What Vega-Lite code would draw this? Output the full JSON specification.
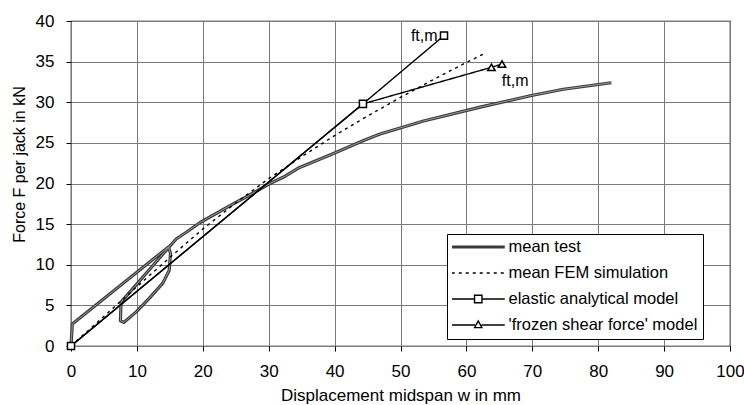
{
  "$schema": "https://vega.github.io/schema/vega-lite/v6.json",
  "width": 659,
  "height": 325,
  "autosize": {"type": "none"},
  "padding": {"left": 71, "top": 21, "right": 14, "bottom": 59},
  "background": "white",
  "config": {
    "view": {"stroke": "black", "strokeWidth": 1.2},
    "font": "Liberation Sans",
    "axis": {
      "labelFont": "Liberation Sans",
      "labelFontSize": 17,
      "labelColor": "black",
      "titleFont": "Liberation Sans",
      "titleFontSize": 17,
      "titleFontWeight": "normal",
      "titleColor": "black",
      "tickColor": "black",
      "tickSize": 5,
      "gridColor": "#7a7a7a",
      "gridWidth": 1,
      "gridOpacity": 1,
      "domain": false,
      "labelPadding": 12
    }
  },
  "datasets": {
    "curves": [
      {"series": "mean test", "i": 0, "x": 0, "y": 0},
      {"series": "mean test", "i": 1, "x": 0.2, "y": 2.7},
      {"series": "mean test", "i": 2, "x": 14.8, "y": 12.2},
      {"series": "mean test", "i": 3, "x": 15.1, "y": 11.4},
      {"series": "mean test", "i": 4, "x": 14.9, "y": 9.3},
      {"series": "mean test", "i": 5, "x": 13.9, "y": 7.7},
      {"series": "mean test", "i": 6, "x": 11.9, "y": 5.9},
      {"series": "mean test", "i": 7, "x": 9.9, "y": 4.2},
      {"series": "mean test", "i": 8, "x": 8.0, "y": 2.9},
      {"series": "mean test", "i": 9, "x": 7.5, "y": 3.1},
      {"series": "mean test", "i": 10, "x": 7.6, "y": 5.4},
      {"series": "mean test", "i": 11, "x": 14.9, "y": 12.2},
      {"series": "mean test", "i": 12, "x": 16.0, "y": 13.2},
      {"series": "mean test", "i": 13, "x": 17.5, "y": 14.0},
      {"series": "mean test", "i": 14, "x": 19.6, "y": 15.2},
      {"series": "mean test", "i": 15, "x": 24.6, "y": 17.5},
      {"series": "mean test", "i": 16, "x": 26.7, "y": 18.4},
      {"series": "mean test", "i": 17, "x": 30.2, "y": 20.0},
      {"series": "mean test", "i": 18, "x": 32.5, "y": 20.9},
      {"series": "mean test", "i": 19, "x": 34.5, "y": 21.9},
      {"series": "mean test", "i": 20, "x": 39.3, "y": 23.5},
      {"series": "mean test", "i": 21, "x": 44.4, "y": 25.3},
      {"series": "mean test", "i": 22, "x": 46.9, "y": 26.1},
      {"series": "mean test", "i": 23, "x": 53.5, "y": 27.7},
      {"series": "mean test", "i": 24, "x": 62.1, "y": 29.4},
      {"series": "mean test", "i": 25, "x": 69.7, "y": 30.8},
      {"series": "mean test", "i": 26, "x": 74.7, "y": 31.6},
      {"series": "mean test", "i": 27, "x": 82.0, "y": 32.4},
      {"series": "mean FEM simulation", "i": 0, "x": 0, "y": 0},
      {"series": "mean FEM simulation", "i": 1, "x": 5, "y": 3.65},
      {"series": "mean FEM simulation", "i": 2, "x": 10, "y": 7.3},
      {"series": "mean FEM simulation", "i": 3, "x": 15, "y": 10.9},
      {"series": "mean FEM simulation", "i": 4, "x": 20, "y": 14.4},
      {"series": "mean FEM simulation", "i": 5, "x": 25, "y": 17.6},
      {"series": "mean FEM simulation", "i": 6, "x": 30, "y": 20.6},
      {"series": "mean FEM simulation", "i": 7, "x": 35, "y": 23.3},
      {"series": "mean FEM simulation", "i": 8, "x": 40, "y": 25.9},
      {"series": "mean FEM simulation", "i": 9, "x": 45, "y": 28.3},
      {"series": "mean FEM simulation", "i": 10, "x": 50, "y": 30.6},
      {"series": "mean FEM simulation", "i": 11, "x": 55, "y": 32.8},
      {"series": "mean FEM simulation", "i": 12, "x": 60, "y": 34.9},
      {"series": "mean FEM simulation", "i": 13, "x": 63, "y": 36.1},
      {"series": "elastic analytical model", "i": 0, "x": 0, "y": 0},
      {"series": "elastic analytical model", "i": 1, "x": 44.3, "y": 29.8},
      {"series": "elastic analytical model", "i": 2, "x": 56.6, "y": 38.2},
      {"series": "'frozen shear force' model", "i": 0, "x": 0, "y": 0},
      {"series": "'frozen shear force' model", "i": 1, "x": 44.3, "y": 29.8},
      {"series": "'frozen shear force' model", "i": 2, "x": 63.8, "y": 34.3},
      {"series": "'frozen shear force' model", "i": 3, "x": 65.4, "y": 34.7}
    ],
    "labels": [
      {"x": 53.6, "y": 38.2, "t": "ft,m"},
      {"x": 67.4, "y": 32.6, "t": "ft,m"}
    ]
  },
  "layer": [
    {
      "data": {"name": "curves"},
      "transform": [{"filter": "datum.series === 'mean test'"}],
      "mark": {"type": "line", "strokeWidth": 3.2, "strokeJoin": "round"},
      "encoding": {
        "x": {
          "field": "x", "type": "quantitative",
          "scale": {"domain": [0, 100], "nice": false, "zero": false},
          "axis": {
            "values": [0, 10, 20, 30, 40, 50, 60, 70, 80, 90, 100],
            "title": "Displacement midspan w in mm",
            "titleY": 54,
            "titleBaseline": "alphabetic",
            "labelFlush": false
          }
        },
        "y": {
          "field": "y", "type": "quantitative",
          "scale": {"domain": [0, 40], "nice": false, "zero": false},
          "axis": {
            "values": [0, 5, 10, 15, 20, 25, 30, 35, 40],
            "title": "Force F per jack in kN",
            "titleFontSize": 16,
            "titleX": -52,
            "titleY": 143,
            "titleAngle": 270,
            "titleAlign": "center",
            "titleBaseline": "middle"
          }
        },
        "order": {"field": "i", "type": "quantitative"},
        "color": {
          "field": "series", "type": "nominal",
          "scale": {
            "domain": ["mean test", "mean FEM simulation", "elastic analytical model", "'frozen shear force' model"],
            "range": ["#3a3a3a", "black", "black", "black"]
          },
          "legend": {
            "title": null,
            "orient": "none",
            "legendX": 376,
            "legendY": 213,
            "padding": 5,
            "fillColor": "white",
            "strokeColor": "black",
            "symbolSize": 2809,
            "symbolType": "stroke",
            "clipHeight": 16,
            "rowPadding": 9,
            "labelFont": "Liberation Sans",
            "labelFontSize": 16.5,
            "labelColor": "black",
            "labelLimit": 400,
            "labelOffset": 22,
            "symbolOffset": 18,
            "encode": {
              "symbols": {
                "update": {
                  "shape": {"signal": "datum.index === 2 ? 'M-1,0H-0.14M0.14,0H1M-0.14,-0.14H0.14V0.14H-0.14Z' : datum.index === 3 ? 'M-1,0H-0.12M0.12,0H1M-0.14,0.1L0,-0.15L0.14,0.1Z' : 'M-1,0H1'"},
                  "strokeWidth": {"signal": "datum.index === 0 ? 3.2 : 1.4"},
                  "strokeDash": {"signal": "datum.index === 1 ? [3, 4] : [1, 0]"},
                  "fill": {"value": "white"}
                }
              }
            }
          }
        }
      }
    },
    {
      "data": {"name": "curves"},
      "transform": [{"filter": "datum.series === 'mean test'"}],
      "mark": {"type": "line", "color": "#a5a5a5", "strokeWidth": 0.9, "strokeJoin": "round"},
      "encoding": {
        "x": {"field": "x", "type": "quantitative"},
        "y": {"field": "y", "type": "quantitative"},
        "order": {"field": "i", "type": "quantitative"}
      }
    },
    {
      "data": {"name": "curves"},
      "transform": [{"filter": "datum.series !== 'mean test'"}],
      "mark": {"type": "line", "strokeWidth": 1.4, "strokeJoin": "round"},
      "encoding": {
        "x": {"field": "x", "type": "quantitative"},
        "y": {"field": "y", "type": "quantitative"},
        "order": {"field": "i", "type": "quantitative"},
        "color": {"field": "series", "type": "nominal"},
        "strokeDash": {
          "field": "series", "type": "nominal",
          "scale": {
            "domain": ["mean test", "mean FEM simulation", "elastic analytical model", "'frozen shear force' model"],
            "range": [[1, 0], [3, 4], [1, 0], [1, 0]]
          },
          "legend": null
        }
      }
    },
    {
      "data": {"name": "curves"},
      "transform": [{"filter": "datum.series === 'elastic analytical model'"}],
      "mark": {"type": "point", "shape": "square", "filled": false, "color": "black", "fill": "white", "fillOpacity": 1, "strokeWidth": 1.5, "size": 50},
      "encoding": {
        "x": {"field": "x", "type": "quantitative"},
        "y": {"field": "y", "type": "quantitative"}
      }
    },
    {
      "data": {"name": "curves"},
      "transform": [{"filter": "datum.series === \"'frozen shear force' model\" && datum.x > 50"}],
      "mark": {"type": "point", "shape": "triangle-up", "filled": false, "color": "black", "fill": "white", "fillOpacity": 1, "strokeWidth": 1.5, "size": 55},
      "encoding": {
        "x": {"field": "x", "type": "quantitative"},
        "y": {"field": "y", "type": "quantitative"}
      }
    },
    {
      "data": {"name": "labels"},
      "mark": {"type": "text", "font": "Liberation Sans", "fontSize": 16, "color": "black"},
      "encoding": {
        "x": {"field": "x", "type": "quantitative"},
        "y": {"field": "y", "type": "quantitative"},
        "text": {"field": "t"}
      }
    }
  ]
}
